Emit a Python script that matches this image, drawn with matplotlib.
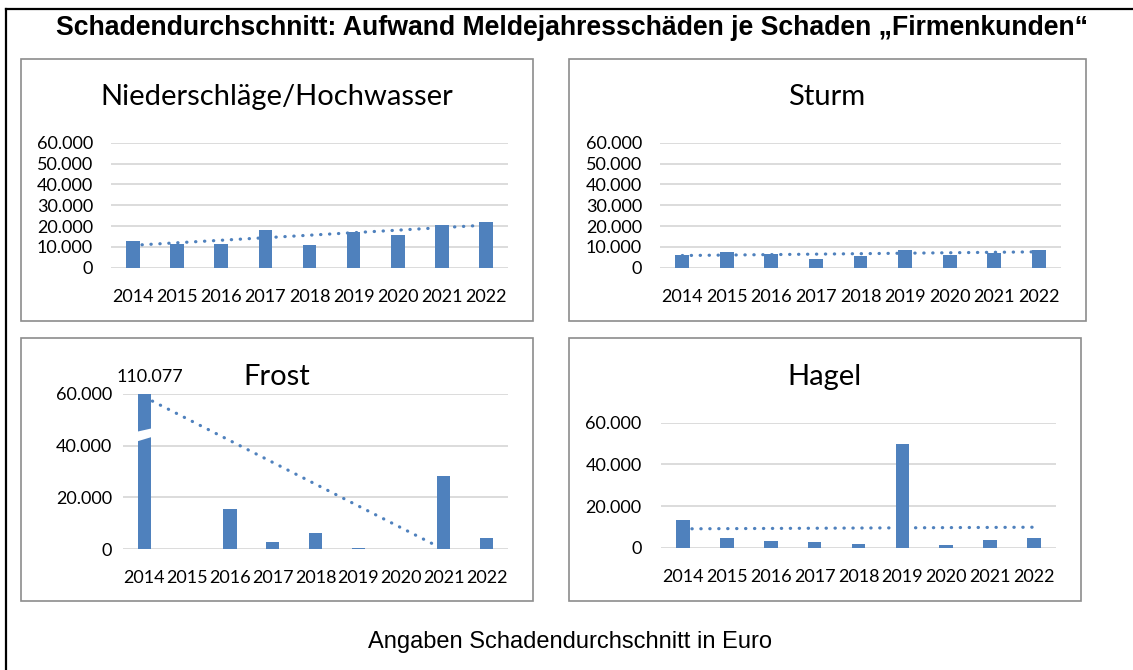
import matplotlib
matplotlib.use("Agg")
import matplotlib.pyplot as plt
import numpy as np
from matplotlib.patches import Rectangle
from matplotlib.lines import Line2D
from matplotlib.ticker import FuncFormatter

# data (Euro, average loss per claim)
years = ['2014', '2015', '2016', '2017', '2018', '2019', '2020', '2021', '2022']
niederschlag = [13000, 11400, 11200, 18000, 10900, 17300, 15900, 20700, 22000]
sturm = [6100, 7500, 6400, 4300, 5800, 8300, 6300, 7200, 8700]
frost = [110077, np.nan, 15500, 2600, 6200, 200, np.nan, 28300, 4400]
hagel = [13300, 4600, 3200, 2900, 1600, 49800, 1300, 3500, 4800]

titles = ['Niederschläge/Hochwasser', 'Sturm', 'Frost', 'Hagel']
main_title = 'Schadendurchschnitt: Aufwand Meldejahresschäden je Schaden \u201eFirmenkunden\u201c'
footer = 'Angaben Schadendurchschnitt in Euro'

W, H = 1133, 670
BLUE = '#4F81BD'
GRID = '#D9D9D9'
FONT = ['Lato', 'DejaVu Sans']

fig = plt.figure(figsize=(W / 100, H / 100), dpi=100)


def rect(x0, y0, x1, y1):
    # pixel box (top-left origin) -> figure fraction
    return [x0 / W, 1 - y1 / H, (x1 - x0) / W, (y1 - y0) / H]


def fmt(v, pos=None):
    return f'{v:,.0f}'.replace(',', '.')


# outer frame (only left and top visible in the reference)
fig.add_artist(Line2D([6 / W, 6 / W], [0, 1 - 9 / H], color='black', lw=1.6))
fig.add_artist(Line2D([6 / W, 1], [1 - 9 / H, 1 - 9 / H], color='black', lw=1.6))

# panel frames
frames = [(21, 59, 533, 321), (569, 59, 1086, 321), (21, 338, 533, 601), (569, 338, 1081, 601)]
for (x0, y0, x1, y1) in frames:
    fig.add_artist(Rectangle((x0 / W, 1 - y1 / H), (x1 - x0) / W, (y1 - y0) / H,
                             transform=fig.transFigure, fill=False, edgecolor='#8C8C8C', lw=1.2))

# plot areas and settings
boxes = [(111, 142.7, 508, 267.7), (660, 142.7, 1061, 267.7), (123, 394, 508, 549), (661, 422.7, 1056, 547.7)]
series = [niederschlag, sturm, frost, hagel]
ysteps = [10000, 10000, 20000, 20000]
ypads = [13, 13, 8, 14]
title_pos = [(277, 97), (827, 97), (277, 377), (824, 377)]

for i in range(4):
    ax = fig.add_axes(rect(*boxes[i]))
    vals = np.array(series[i], dtype=float)
    x = np.arange(len(years))
    ax.bar(x, np.nan_to_num(vals), width=0.31, color=BLUE, zorder=3)

    # linear trend line over available values
    ok = ~np.isnan(vals)
    k, d = np.polyfit(x[ok], vals[ok], 1)
    ax.plot(x, k * x + d, color=BLUE, lw=2.3, linestyle=(0, (0.1, 2.7)),
            dash_capstyle='round', zorder=4)

    ax.set_xlim(-0.5, len(years) - 0.5)
    ax.set_ylim(0, 60000)
    ax.set_yticks(np.arange(0, 60001, ysteps[i]))
    ax.yaxis.set_major_formatter(FuncFormatter(fmt))
    ax.set_xticks(x)
    ax.set_xticklabels(years)
    ax.grid(axis='y', color=GRID, lw=1.3, zorder=0)
    ax.set_axisbelow(True)
    for s in ax.spines.values():
        s.set_visible(False)
    ax.tick_params(axis='both', length=0, labelsize=13)
    ax.tick_params(axis='x', pad=15)
    ax.tick_params(axis='y', pad=ypads[i])
    for lab in ax.get_xticklabels() + ax.get_yticklabels():
        lab.set_fontfamily(FONT)

    tx, ty = title_pos[i]
    fig.text(tx / W, 1 - ty / H, titles[i], ha='center', va='center',
             fontsize=21, family=FONT)

    if titles[i] == 'Frost':
        # axis break on the 2014 bar
        x0, x1 = -0.2, 0.2
        ax.fill([x0, x1, x1, x0], [41500, 43500, 46800, 45300], color='white', zorder=5, lw=0)
        ax.annotate(fmt(vals[0]), (0, 60000), xytext=(4, 12), textcoords='offset points',
                    ha='center', va='center', fontsize=13, family=FONT, annotation_clip=False)

fig.text(572 / W, 1 - 28 / H, main_title, ha='center', va='center', fontsize=19.2,
         fontweight='bold', family=['Liberation Sans', 'DejaVu Sans'])
fig.text(570 / W, 1 - 642 / H, footer, ha='center', va='center', fontsize=17,
         family=['Liberation Sans', 'DejaVu Sans'])

fig.savefig('out.png', dpi=100)
